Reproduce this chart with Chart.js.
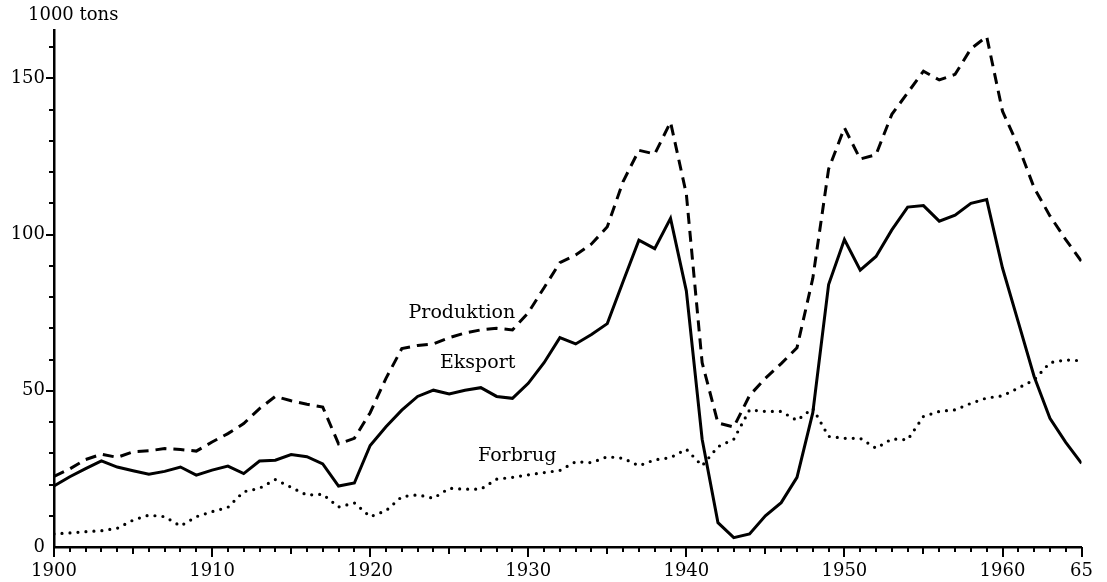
<!DOCTYPE html>
<html>
<head>
<meta charset="utf-8">
<script src="https://cdn.jsdelivr.net/npm/chart.js@4/dist/chart.umd.min.js"></script>
<style>
  html, body { margin: 0; padding: 0; background: #fff; }
  #wrap { width: 1107px; height: 582px; position: relative; }
</style>
</head>
<body>
<div id="wrap"><canvas id="chart"></canvas></div>
<script>
const years = []
for (let y = 1900; y <= 1965; y++) years.push(y)

const produktion = [
  22.6, 25, 28, 29.7, 28.7, 30.5, 30.8, 31.5, 31.2, 30.7,
  33.6, 36.3, 39.5, 44.3, 48.2, 46.8, 45.7, 44.8, 33, 34.8,
  43, 54, 63.5, 64.5, 65, 67, 68.5, 69.5, 70, 69.5,
  75, 83, 91, 93.5, 97, 102.5, 117, 127, 125.8, 136,
  113, 59, 39.7, 38.4, 48.5, 54, 58.7, 63.8, 86, 121,
  134.2, 124.2, 125.6, 138.5, 145.4, 152.3, 149.5, 151.3, 159.5, 163.4,
  139.5, 128.3, 115, 106, 98.4, 91.4
]

const eksport = [
  19.5, 22.5, 25.1, 27.6, 25.6, 24.4, 23.3, 24.2, 25.6, 23,
  24.6, 25.9, 23.5, 27.5, 27.8, 29.6, 28.9, 26.6, 19.5, 20.5,
  32.5, 38.5, 43.8, 48.2, 50.2, 49, 50.2, 51, 48.2, 47.6,
  52.4, 59, 67, 65, 68, 71.5, 85, 98.2, 95.5, 105.2,
  82, 34.5, 7.8, 3, 4.2, 10, 14.2, 22.3, 43, 84,
  98.4, 88.6, 93, 101.5, 108.8, 109.3, 104.3, 106.2, 110, 111.2,
  89.3, 72, 54.6, 41.2, 33.5, 26.8
]

const forbrug = [
  4.2, 4.5, 4.9, 5.2, 6, 8.6, 10.2, 9.7, 6.7, 9.7,
  11.3, 12.7, 17.7, 18.8, 21.6, 19.1, 16.6, 16.9, 12.8, 14.1,
  9.7, 11.6, 16.1, 16.7, 15.6, 18.8, 18.5, 18.5, 21.7, 22.3,
  23.1, 23.8, 24.5, 27.3, 27, 28.9, 28.4, 26, 27.9, 28.6,
  31.3, 26, 32.1, 34.5, 43.9, 43.4, 43.4, 40.5, 44.4, 35.4,
  34.8, 34.8, 31.6, 34.6, 34.3, 41.8, 43.4, 43.9, 46, 47.7,
  48.4, 50.9, 53.5, 59, 59.9, 59.6
]

const xTicks = [1900, 1910, 1920, 1930, 1940, 1950, 1960, 1965]
const yTicks = [0, 50, 100, 150]
const unitLabel = "1000 tons"

// series names placed next to the curves (year, value)
const seriesLabels = [
  { text: "Produktion", x: 1925.8, y: 75 },
  { text: "Eksport", x: 1926.8, y: 59 },
  { text: "Forbrug", x: 1929.3, y: 29 }
]

const serif = '"DejaVu Serif", "Liberation Serif", serif'

function toPoints(values) {
  return values.map((v, i) => ({ x: years[i], y: v }))
}

const tickMarks = {
  id: "tickMarks",
  afterDraw(chart) {
    const { ctx, scales } = chart
    const xs = scales.x
    const ys = scales.y
    const axisY = ys.getPixelForValue(0)
    const axisX = xs.getPixelForValue(1900)
    ctx.save()
    ctx.strokeStyle = "#000"
    ctx.lineWidth = 2
    for (let yr = 1900; yr <= 1965; yr++) {
      let len = 5
      if (yr % 10 === 0 || yr === 1965) len = 10
      else if (yr % 5 === 0) len = 7
      const px = Math.round(xs.getPixelForValue(yr))
      ctx.beginPath()
      ctx.moveTo(px, axisY)
      ctx.lineTo(px, axisY + len)
      ctx.stroke()
    }
    for (let v = 10; v <= 160; v += 10) {
      const len = v % 50 === 0 ? 8 : 5
      const py = Math.round(ys.getPixelForValue(v))
      ctx.beginPath()
      ctx.moveTo(axisX, py)
      ctx.lineTo(axisX - len, py)
      ctx.stroke()
    }

    ctx.fillStyle = "#000"
    ctx.font = "19px " + serif
    ctx.textAlign = "center"
    ctx.textBaseline = "middle"
    seriesLabels.forEach((l) => {
      ctx.fillText(l.text, xs.getPixelForValue(l.x), ys.getPixelForValue(l.y))
    })

    ctx.font = "18px " + serif
    ctx.textAlign = "left"
    ctx.fillText(unitLabel, 28, 15)
    ctx.restore()
  }
}

new Chart(document.getElementById("chart"), {
  type: "line",
  data: {
    datasets: [
      {
        label: "Produktion",
        data: toPoints(produktion),
        borderColor: "#000",
        borderWidth: 3,
        borderDash: [11, 7],
        pointRadius: 0,
        tension: 0
      },
      {
        label: "Eksport",
        data: toPoints(eksport),
        borderColor: "#000",
        borderWidth: 3,
        pointRadius: 0,
        tension: 0
      },
      {
        label: "Forbrug",
        data: toPoints(forbrug),
        borderColor: "#000",
        borderWidth: 3.2,
        borderDash: [0, 8],
        borderCapStyle: "round",
        pointRadius: 0,
        tension: 0
      }
    ]
  },
  options: {
    responsive: true,
    maintainAspectRatio: false,
    animation: false,
    layout: { padding: { left: 0, right: 23, top: 30, bottom: 0 } },
    plugins: {
      legend: { display: false },
      tooltip: { enabled: false }
    },
    scales: {
      x: {
        type: "linear",
        min: 1900,
        max: 1965,
        afterBuildTicks: (scale) => {
          scale.ticks = xTicks.map((v) => ({ value: v }))
        },
        afterFit: (scale) => {
          scale.height = 35
        },
        grid: { display: false, drawTicks: false },
        border: { display: true, color: "#000", width: 2.5 },
        ticks: {
          autoSkip: false,
          maxRotation: 0,
          padding: 14,
          color: "#000",
          font: { family: serif, size: 18 },
          callback: (v) => (v === 1965 ? "65" : String(v))
        }
      },
      y: {
        min: 0,
        max: 165.5,
        afterBuildTicks: (scale) => {
          scale.ticks = yTicks.map((v) => ({ value: v }))
        },
        afterFit: (scale) => {
          scale.width = 54
        },
        grid: { display: false, drawTicks: false },
        border: { display: true, color: "#000", width: 2.5 },
        ticks: {
          padding: 9,
          color: "#000",
          font: { family: serif, size: 18 }
        }
      }
    }
  },
  plugins: [tickMarks]
})
</script>
</body>
</html>
